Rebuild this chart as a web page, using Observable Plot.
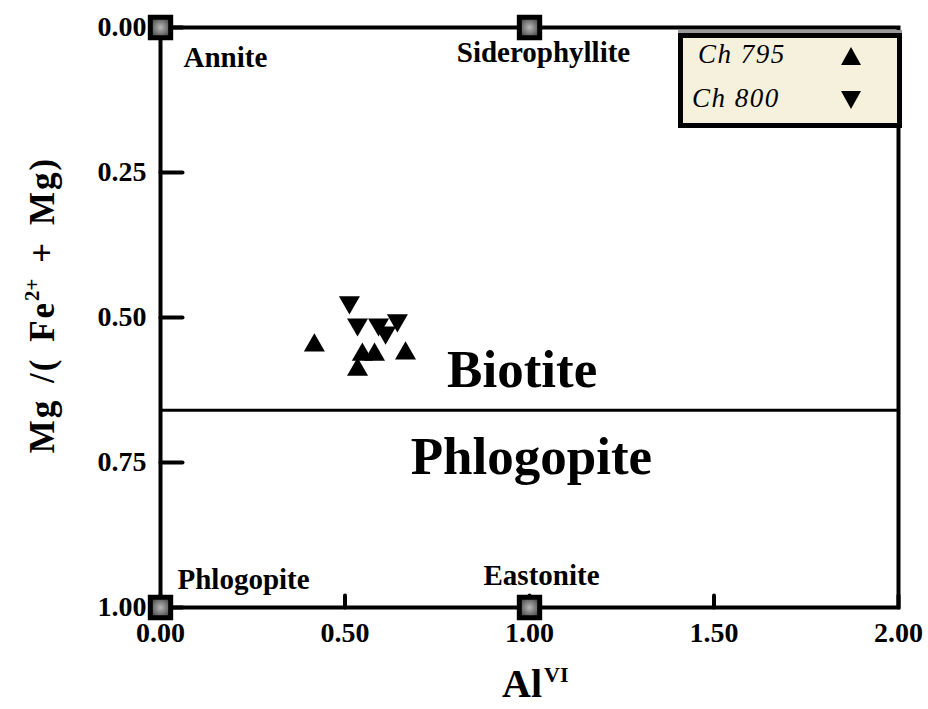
<!DOCTYPE html>
<html>
<head>
<meta charset="utf-8">
<script src="https://cdn.jsdelivr.net/npm/d3@7"></script>
<script src="https://cdn.jsdelivr.net/npm/@observablehq/plot@0.6"></script>
<style>
  body { margin: 0; background: #fff; }
  #wrap { position: relative; width: 928px; height: 709px; overflow: hidden; font-family: "Liberation Serif", "Times New Roman", serif; color: #000; }
  #wrap svg { position: absolute; left: 0; top: 0; }
  #wrap svg text { font-weight: bold; }
  .ytitle { position: absolute; left: 41px; top: 305px; transform: translate(-50%, -50%) rotate(-90deg); white-space: nowrap; font-size: 35px; font-weight: bold; letter-spacing: 2px; word-spacing: 5px; }
  .ytitle sup { font-size: 21px; vertical-align: 15px; letter-spacing: 0; }
  .xtitle { position: absolute; left: 502px; top: 666px; white-space: nowrap; font-size: 40px; font-weight: bold; line-height: 0.8; }
  .xtitle sup { font-size: 22px; vertical-align: 15px; margin-left: 2px; line-height: 0.8; }
  .legend { position: absolute; left: 678px; top: 33px; width: 224px; height: 95px; box-sizing: border-box; border: 5px solid #000; background: #f6f1dc; box-shadow: 0 -3px 0 #9a9a9a; }
  .legend .lab { position: absolute; font-size: 27px; font-style: italic; letter-spacing: 1.5px; line-height: 1; }
  .legend svg { position: absolute; }
</style>
</head>
<body>
<div id="wrap"></div>
<script>
// ---- data ----
const seriesNames = ["Ch 795", "Ch 800"];
const ch795X = [0.417, 0.547, 0.580, 0.664, 0.534];
const ch795Y = [0.548, 0.564, 0.564, 0.562, 0.590];
const ch800X = [0.512, 0.534, 0.591, 0.642, 0.610];
const ch800Y = [0.474, 0.512, 0.512, 0.505, 0.526];

const endNames = ["Annite", "Siderophyllite", "Phlogopite", "Eastonite"];
const endX = [0, 1, 0, 1];
const endY = [0, 0, 1, 1];

const boundaryY = [0.66];
const fieldNames = ["Biotite", "Phlogopite"];
const fieldX = [0.98, 1.005];
const fieldY = [0.591, 0.741];

const xTicks = [0, 0.5, 1, 1.5, 2];
const yTicks = [0, 0.25, 0.5, 0.75, 1];

// ---- styles (offsets of end-member labels, in pixels) ----
const endLabelStyle = [
  {dx: 23, dy: 30, anchor: "start"},
  {dx: 14, dy: 25, anchor: "middle"},
  {dx: 17, dy: -28, anchor: "start"},
  {dx: 12, dy: -32, anchor: "middle"}
];

const tickShape = {draw(context, l) { context.moveTo(0, 0); context.lineTo(0, -l); }};
const triangleDown = {
  draw(context, size) {
    const y = -Math.sqrt(size / (Math.sqrt(3) * 3));
    const s = Math.sqrt(3);
    context.moveTo(0, -2 * y);
    context.lineTo(-s * y, y);
    context.lineTo(s * y, y);
    context.closePath();
  }
};

const fmt = d3.format(".2f");
const idx = a => a.map((_, i) => i);

const plot = Plot.plot({
  width: 928,
  height: 709,
  marginLeft: 160,
  marginRight: 30,
  marginTop: 27,
  marginBottom: 102,
  style: {fontFamily: '"Liberation Serif", "Times New Roman", serif', background: "transparent", color: "black", overflow: "visible"},
  x: {domain: [0, 2]},
  y: {domain: [0, 1], reverse: true},
  marks: [
    Plot.axisX({ticks: xTicks, tickSize: 0, tickPadding: 15, tickFormat: fmt, fontSize: 28, label: null}),
    Plot.axisY({ticks: yTicks, tickSize: 0, tickPadding: 14, tickFormat: fmt, fontSize: 28, label: null}),
    Plot.ruleY(boundaryY, {stroke: "black", strokeWidth: 3}),
    Plot.vector(xTicks, {x: d => d, y: d => 1, length: 12, rotate: 0, anchor: "start", shape: tickShape, stroke: "black", strokeWidth: 4}),
    Plot.vector(yTicks, {x: d => 0, y: d => d, length: 22, rotate: 90, anchor: "start", shape: tickShape, stroke: "black", strokeWidth: 4}),
    Plot.frame({stroke: "black", strokeWidth: 4}),
    Plot.dot(idx(endNames), {x: i => endX[i], y: i => endY[i], symbol: "square", r: 11.5, fill: "url(#sqgrad)", stroke: "black", strokeWidth: 5}),
    ...endNames.map((n, i) => Plot.text([i], {
      x: j => endX[j], y: j => endY[j], text: j => endNames[j],
      dx: endLabelStyle[i].dx, dy: endLabelStyle[i].dy, textAnchor: endLabelStyle[i].anchor,
      fontSize: 29, fontWeight: "bold", fill: "black", letterSpacing: 2.5
    })),
    Plot.text(idx(fieldNames), {x: i => fieldX[i], y: i => fieldY[i], text: i => fieldNames[i], fontSize: 53, fontWeight: "bold", fill: "black"}),
    Plot.dot(idx(ch795X), {x: i => ch795X[i], y: i => ch795Y[i], symbol: "triangle", r: 7.8, fill: "black"}),
    Plot.dot(idx(ch800X), {x: i => ch800X[i], y: i => ch800Y[i], symbol: triangleDown, r: 7.8, fill: "black"})
  ]
});

const defs = d3.select(plot).insert("defs", ":first-child");
const grad = defs.append("radialGradient").attr("id", "sqgrad");
grad.append("stop").attr("offset", "0%").attr("stop-color", "#b8b8b8");
grad.append("stop").attr("offset", "100%").attr("stop-color", "#505050");

const wrap = document.getElementById("wrap");
wrap.appendChild(plot);

// axis titles
const yt = document.createElement("div");
yt.className = "ytitle";
yt.innerHTML = "Mg /( Fe<sup>2+</sup> + Mg)";
wrap.appendChild(yt);

const xt = document.createElement("div");
xt.className = "xtitle";
xt.innerHTML = "Al<sup>VI</sup>";
wrap.appendChild(xt);

// legend
const lg = document.createElement("div");
lg.className = "legend";
const rows = [
  {name: seriesNames[0], labLeft: 15, labTop: 3, symTop: 8, up: true},
  {name: seriesNames[1], labLeft: 9, labTop: 47, symTop: 52, up: false}
];
rows.forEach(r => {
  const lab = document.createElement("div");
  lab.className = "lab";
  lab.textContent = r.name;
  lab.style.left = r.labLeft + "px";
  lab.style.top = r.labTop + "px";
  lg.appendChild(lab);
  const s = d3.create("svg").attr("width", 22).attr("height", 20)
    .style("left", "157px").style("top", r.symTop + "px");
  s.append("path").attr("d", r.up ? "M11,1 L21,19 L1,19 Z" : "M1,1 L21,1 L11,19 Z").attr("fill", "black");
  lg.appendChild(s.node());
});
wrap.appendChild(lg);
</script>
</body>
</html>
